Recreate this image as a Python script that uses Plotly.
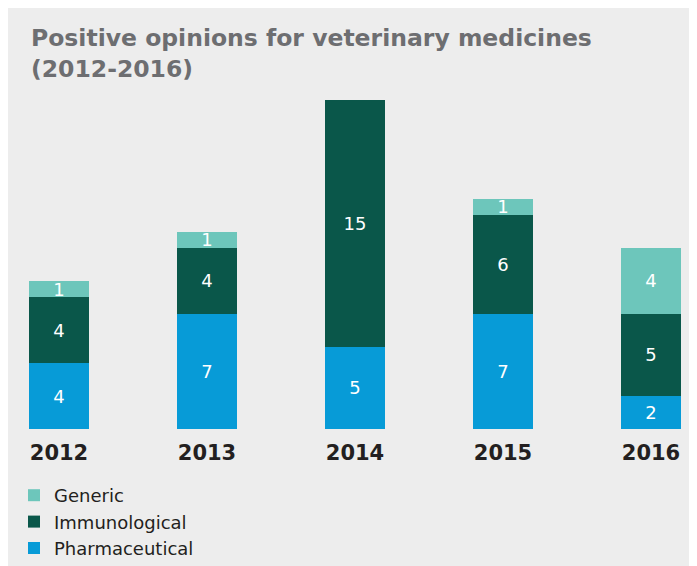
import plotly.graph_objects as go

years = ["2012", "2013", "2014", "2015", "2016"]
pharmaceutical = [4, 7, 5, 7, 2]
immunological = [4, 4, 15, 6, 5]
generic = [1, 1, 0, 1, 4]

W, H = 697, 566
M_TOP, M_BOT = 92, 145
plot_h = H - M_TOP - M_BOT


def py(pix):
    # pixel row (figure coords) -> paper y
    return (H - M_BOT - pix) / plot_h


xs = list(range(len(years)))
series = [
    ("Pharmaceutical", pharmaceutical, "#079bd7"),
    ("Immunological", immunological, "#0a574a"),
    ("Generic", generic, "#6dc6bb"),
]

fig = go.Figure()
for name, vals, col in series:
    fig.add_trace(go.Bar(
        x=xs, y=vals, name=name,
        marker=dict(color=col, line=dict(width=0)),
        width=0.4,
        text=[str(v) if v else "" for v in vals],
        textposition="inside",
        insidetextanchor="middle",
        textangle=0,
        textfont=dict(color="white", size=18, family="DejaVu Sans"),
    ))

fig.update_layout(
    width=W, height=H,
    margin=dict(l=0, r=0, t=M_TOP, b=M_BOT, pad=0),
    paper_bgcolor="#ededed",
    plot_bgcolor="rgba(0,0,0,0)",
    barmode="stack",
    uniformtext=dict(minsize=18, mode="show"),
    title=dict(
        text="<b>Positive opinions for veterinary medicines<br>(2012-2016)</b>",
        x=23 / W, xanchor="left", xref="paper",
        y=1 - 38 / H, yanchor="top",
        font=dict(family="DejaVu Sans", size=23.5, color="#6d6e71"),
    ),
    legend=dict(
        traceorder="reversed",
        x=6 / W, xanchor="left",
        y=py(469), yanchor="top",
        bgcolor="rgba(0,0,0,0)",
        font=dict(family="DejaVu Sans", size=18, color="#231f20"),
    ),
    showlegend=True,
)
fig.update_xaxes(
    range=[-51 / 148, (W - 51) / 148],
    tickvals=xs, ticktext=[f"<b>{y}</b>" for y in years],
    tickfont=dict(family="DejaVu Sans", size=21, color="#231f20"),
    ticklabelstandoff=9,
    showgrid=False, zeroline=False, showline=False, ticks="",
)
fig.update_yaxes(range=[0, 20], visible=False)

fig.write_html("out.html")
